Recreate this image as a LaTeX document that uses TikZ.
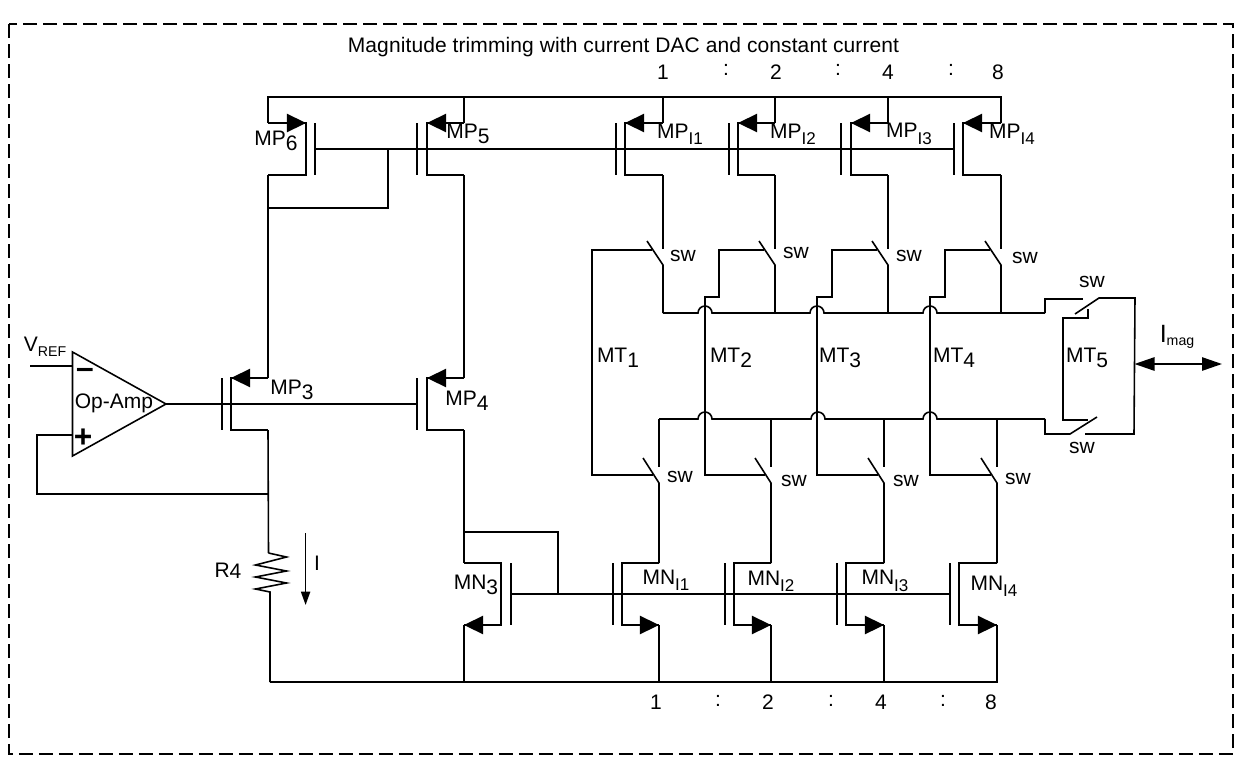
\documentclass[tikz,border=0pt]{standalone}
\usepackage{fontspec}
\setmainfont{Liberation Sans}
\usetikzlibrary{arrows.meta,calc}
\newcommand{\low}[2]{#1\raisebox{-0.25em}{#2}}
\newcommand{\lowi}[2]{#1\raisebox{-0.3em}{\fontsize{10.2}{12}\selectfont #2}}
\newcommand{\mostran}[6]{
\coordinate (#1-ot) at (#2,#5);
\coordinate (#1-ct) at (#3,#5);
\coordinate (#1-cb) at (#3,#6);
\coordinate (#1-ob) at (#2,#6);
\coordinate (#1-bt) at (#4,#5);
\coordinate (#1-bb) at (#4,#6);
\coordinate (#1-g) at ($(#1-bt)!0.5!(#1-bb)$);
\draw (#1-ot) -- (#1-ct) -- (#1-cb) -- (#1-ob);
\draw (#1-bt) -- (#1-bb);
}

\begin{document}
\begin{tikzpicture}[x=0.6pt,y=-0.6pt,line width=0.95pt,
  lbl/.style={inner sep=0pt,font=\fontsize{12.6}{14}\selectfont},
  mosarrow/.style={-{Triangle[length=11.5pt,width=11pt]}},
  frame/.style={dash pattern=on 8.4pt off 3.6pt}]
\useasboundingbox (0,0) rectangle (1254,770);

% outer frame and title
\coordinate (frameA) at (9,24);
\coordinate (frameB) at (1233,754);
\draw[frame] (frameA) rectangle (frameB);
\node[lbl] (title) at (623.5,47) {\addfontfeature{LetterSpace=0.5}Magnitude trimming with current DAC and constant current};

% op-amp
\coordinate (oaT) at (72.5,352);
\coordinate (oaB) at (72.5,456);
\coordinate (oaO) at (166,404);
\coordinate (oaM) at (72.5,366);
\coordinate (oaP) at (72.5,435);
\coordinate (vref) at (30,366);
\draw (oaT) -- (oaO) -- (oaB) -- cycle;
\draw (vref) -- (oaM);
\node[lbl] (vreflbl) at (45,347) {V\raisebox{-0.25em}{\fontsize{8.5}{10}\selectfont REF}};
\node[lbl] (oalbl) at (114,403) {Op-Amp};
\node[lbl,font=\fontsize{19}{20}\selectfont\bfseries] (oaminus) at (85,373) {–};
\node[lbl,font=\fontsize{19}{20}\selectfont\bfseries] (oaplus) at (83,438) {+};

% transistors
\mostran{mp6}{268}{306}{315}{123}{175}
\mostran{mp5}{464}{427}{417}{123}{175}
\mostran{mpa}{663}{625}{616}{123}{175}
\mostran{mpb}{775}{738}{729}{123}{175}
\mostran{mpc}{888}{851}{841}{123}{175}
\mostran{mpd}{1001}{963}{954}{123}{175}
\mostran{mp3}{268}{231}{222}{378}{430}
\mostran{mp4}{464}{427}{417}{378}{430}
\mostran{mn3}{464}{501}{511}{563}{625}
\mostran{mna}{659}{622}{613}{563}{625}
\mostran{mnb}{771}{734}{725}{563}{625}
\mostran{mnc}{884}{846}{837}{563}{625}
\mostran{mnd}{997}{959}{950}{563}{625}

\draw[mosarrow] (mp6-ot) -- (mp6-ct);
\draw[mosarrow] (mp5-ot) -- (mp5-ct);
\draw[mosarrow] (mpa-ot) -- (mpa-ct);
\draw[mosarrow] (mpb-ot) -- (mpb-ct);
\draw[mosarrow] (mpc-ot) -- (mpc-ct);
\draw[mosarrow] (mpd-ot) -- (mpd-ct);
\draw[mosarrow] (mp3-ot) -- (mp3-ct);
\draw[mosarrow] (mp4-ot) -- (mp4-ct);
\draw[mosarrow] (mn3-cb) -- (mn3-ob);
\draw[mosarrow] (mna-cb) -- (mna-ob);
\draw[mosarrow] (mnb-cb) -- (mnb-ob);
\draw[mosarrow] (mnc-cb) -- (mnc-ob);
\draw[mosarrow] (mnd-cb) -- (mnd-ob);

% rails and gates
\coordinate (railT) at (268,97);
\coordinate (railB) at (270,682);
\draw (mp6-ot) -- (railT) -| (mpd-ot);
\draw (mp5-ot) |- (railT);
\draw (mpa-ot) |- (railT);
\draw (mpb-ot) |- (railT);
\draw (mpc-ot) |- (railT);
\draw (railB) -| (mnd-ob);
\draw (mn3-ob) |- (railB);
\draw (mna-ob) |- (railB);
\draw (mnb-ob) |- (railB);
\draw (mnc-ob) |- (railB);
\draw (mp6-g) -- (mpd-g);
\draw (oaO) -- (mp4-g);
\draw (mn3-g) -- (mnd-g);

% current mirror wiring
\coordinate (diodeA) at (268,208);
\coordinate (diodeB) at (388,149);
\coordinate (diodeC) at (464,532);
\coordinate (diodeD) at (558,594);
\coordinate (fbA) at (37,494);
\coordinate (fbB) at (268,494);
\coordinate (resT) at (268.5,553);
\coordinate (resB) at (270,592);
\draw (mp6-ob) -- (mp3-ot);
\draw (mp5-ob) -- (mp4-ot);
\draw (diodeA) -| (diodeB);
\draw (mp4-ob) -- (mn3-ot);
\draw (diodeC) -| (diodeD);
\draw (oaP) -| (fbA) -- (fbB);
\draw (mp3-ob) -- (resT);
\draw (resT) -- ++(18,4) -- ++(-31,8) -- ++(31,6) -- ++(-31,6) -- ++(31,6) -- ++(-31,6) -- (resB) -- (railB);
\coordinate (curA) at (305.6,533);
\coordinate (curB) at (305.6,605);
\draw[-{Triangle[length=8pt,width=5.5pt]}] (curA) -- (curB);
\node[lbl] (rlbl) at (228,571) {R\raisebox{-0.05em}{4}};
\node[lbl] (ilbl) at (317,563) {I};

% upper bus with its hops
\coordinate (busT) at (663,313);
\coordinate (busTa) at (698,313);
\coordinate (busTc) at (810,313);
\coordinate (busTe) at (923,313);
\coordinate (busTg) at (1045,313);
\draw (busT) -- (busTa) arc[start angle=180,end angle=360,radius=7] -- (busTc) arc[start angle=180,end angle=360,radius=7] -- (busTe) arc[start angle=180,end angle=360,radius=7] -- (busTg);

% lower bus with its hops
\coordinate (busL) at (659,419);
\coordinate (busLa) at (698,419);
\coordinate (busLc) at (811,419);
\coordinate (busLe) at (923,419);
\coordinate (busLg) at (1045,419);
\draw (busL) -- (busLa) arc[start angle=180,end angle=360,radius=7] -- (busLc) arc[start angle=180,end angle=360,radius=7] -- (busLe) arc[start angle=180,end angle=360,radius=7] -- (busLg);

% upper switches
\coordinate (swaO) at (663,249);
\coordinate (swaC) at (663,265);
\coordinate (swaE) at (647,241);
\coordinate (swbO) at (775,249);
\coordinate (swbC) at (775,265);
\coordinate (swbE) at (759,241);
\coordinate (swcO) at (888,249);
\coordinate (swcC) at (888,265);
\coordinate (swcE) at (872,241);
\coordinate (swdO) at (1001,249);
\coordinate (swdC) at (1001,265);
\coordinate (swdE) at (985,241);
\draw (mpa-ob) -- (swaO);
\draw (mpb-ob) -- (swbO);
\draw (mpc-ob) -- (swcO);
\draw (mpd-ob) -- (swdO);
\draw (swaE) -- (swaC) -- (busT);
\draw (swbE) -- (swbC) -- (775,313);
\draw (swcE) -- (swcC) -- (888,313);
\draw (swdE) -- (swdC) -- (1001,313);

% lower switches
\coordinate (swhO) at (659,467);
\coordinate (swhC) at (659,483);
\coordinate (swhE) at (643,458);
\coordinate (swiO) at (771,467);
\coordinate (swiC) at (771,483);
\coordinate (swiE) at (755,458);
\coordinate (swjO) at (884,467);
\coordinate (swjC) at (884,483);
\coordinate (swjE) at (868,458);
\coordinate (swkO) at (997,467);
\coordinate (swkC) at (997,483);
\coordinate (swkE) at (981,458);
\draw (busL) -- (swhO);
\draw (771,419) -- (swiO);
\draw (884,419) -- (swjO);
\draw (997,419) -- (swkO);
\draw (swhE) -- (swhC) -- (mna-ot);
\draw (swiE) -- (swiC) -- (mnb-ot);
\draw (swjE) -- (swjC) -- (mnc-ot);
\draw (swkE) -- (swkC) -- (mnd-ot);

% trim lines
\coordinate (mtaT) at (592,250);
\coordinate (mtaB) at (592,475);
\coordinate (mtaU) at (652,250);
\coordinate (mtaV) at (653,475);
\draw (mtaU) -- (mtaT) -- (mtaB) -- (mtaV);
\coordinate (mtbT) at (764,250);
\coordinate (mtbK) at (719,297);
\coordinate (mtbL) at (705,297);
\coordinate (mtbB) at (705,475);
\coordinate (mtbV) at (765,475);
\draw (mtbT) -| (mtbK) -- (mtbL) -- (mtbB) -- (mtbV);
\coordinate (mtcT) at (877,250);
\coordinate (mtcK) at (832,297);
\coordinate (mtcL) at (817,297);
\coordinate (mtcB) at (817,475);
\coordinate (mtcV) at (878,475);
\draw (mtcT) -| (mtcK) -- (mtcL) -- (mtcB) -- (mtcV);
\coordinate (mtdT) at (990,250);
\coordinate (mtdK) at (945,297);
\coordinate (mtdL) at (930,297);
\coordinate (mtdB) at (930,475);
\coordinate (mtdV) at (991,475);
\draw (mtdT) -| (mtdK) -- (mtdL) -- (mtdB) -- (mtdV);

% output switches and MT5
\coordinate (outA) at (1045,299);
\coordinate (outB) at (1083,299);
\coordinate (outC) at (1075,314);
\coordinate (outD) at (1099,298);
\coordinate (outE) at (1135,298);
\coordinate (outF) at (1134,434);
\coordinate (outG) at (1085,434);
\coordinate (outH) at (1097,417);
\coordinate (outI) at (1070,434);
\coordinate (outJ) at (1045,434);
\draw (busTg) -- (outA) -- (outB);
\draw (outC) -- (outD) -- (outE) -- (outF) -- (outG);
\draw (outH) -- (outI) -- (outJ) -- (busLg);
\coordinate (mteA) at (1088,309);
\coordinate (mteB) at (1088,318);
\coordinate (mteC) at (1063,318);
\coordinate (mteD) at (1063,420);
\coordinate (mteE) at (1088,420);
\draw (mteA) -- (mteB) -- (mteC) -- (mteD) -- (mteE);

% output current
\coordinate (imagA) at (1134.5,364);
\coordinate (imagB) at (1222,364);
\draw[{Triangle[length=12pt,width=8pt]}-{Triangle[length=12pt,width=8pt]}] (imagA) -- (imagB);
\node[lbl] (imag) at (1177,337) {\fontsize{15}{16}\selectfont I\raisebox{-0.1em}{\fontsize{8.5}{10}\selectfont mag}};

% ratios
\node[lbl] (ra1) at (663,72) {1};
\node[lbl] (ra2) at (726,70) {:};
\node[lbl] (ra3) at (776,72) {2};
\node[lbl] (ra4) at (838,70) {:};
\node[lbl] (ra5) at (888,72) {4};
\node[lbl] (ra6) at (951,70) {:};
\node[lbl] (ra7) at (998,72) {8};
\node[lbl] (rb1) at (656,702) {1};
\node[lbl] (rb2) at (718,701) {:};
\node[lbl] (rb3) at (768,702) {2};
\node[lbl] (rb4) at (831,701) {:};
\node[lbl] (rb5) at (881,702) {4};
\node[lbl] (rb6) at (943,701) {:};
\node[lbl] (rb7) at (991,702) {8};

% device names
\node[lbl] (mp6lbl) at (276,141) {\low{MP}{6}};
\node[lbl] (mp5lbl) at (468,134) {\low{MP}{5}};
\node[lbl] (mpalbl) at (680,134) {\lowi{MP}{I1}};
\node[lbl] (mpblbl) at (793,134) {\lowi{MP}{I2}};
\node[lbl] (mpclbl) at (909,134) {\lowi{MP}{I3}};
\node[lbl] (mpdlbl) at (1012,134) {\lowi{MP}{I4}};
\node[lbl] (mp3lbl) at (292,390) {\low{MP}{3}};
\node[lbl] (mp4lbl) at (467,401) {\low{MP}{4}};
\node[lbl] (mn3lbl) at (476,585) {\low{MN}{3}};
\node[lbl] (mnalbl) at (666,580) {\lowi{MN}{I1}};
\node[lbl] (mnblbl) at (771,581) {\lowi{MN}{I2}};
\node[lbl] (mnclbl) at (885,581) {\lowi{MN}{I3}};
\node[lbl] (mndlbl) at (994,586) {\lowi{MN}{I4}};
\node[lbl] (mt1lbl) at (618,358) {\low{MT}{1}};
\node[lbl] (mt2lbl) at (731,358) {\low{MT}{2}};
\node[lbl] (mt3lbl) at (840,358) {\low{MT}{3}};
\node[lbl] (mt4lbl) at (954,358) {\low{MT}{4}};
\node[lbl] (mt5lbl) at (1087,358) {\low{MT}{5}};

% switch names
\node[lbl] (sw1) at (683,256) {sw};
\node[lbl] (sw2) at (796,253) {sw};
\node[lbl] (sw3) at (909,256) {sw};
\node[lbl] (sw4) at (1025,258) {sw};
\node[lbl] (sw5) at (680,477) {sw};
\node[lbl] (sw6) at (794,481) {sw};
\node[lbl] (sw7) at (906,481) {sw};
\node[lbl] (sw8) at (1018,479) {sw};
\node[lbl] (sw9) at (1092,282) {sw};
\node[lbl] (sw10) at (1082,448) {sw};
\end{tikzpicture}
\end{document}
